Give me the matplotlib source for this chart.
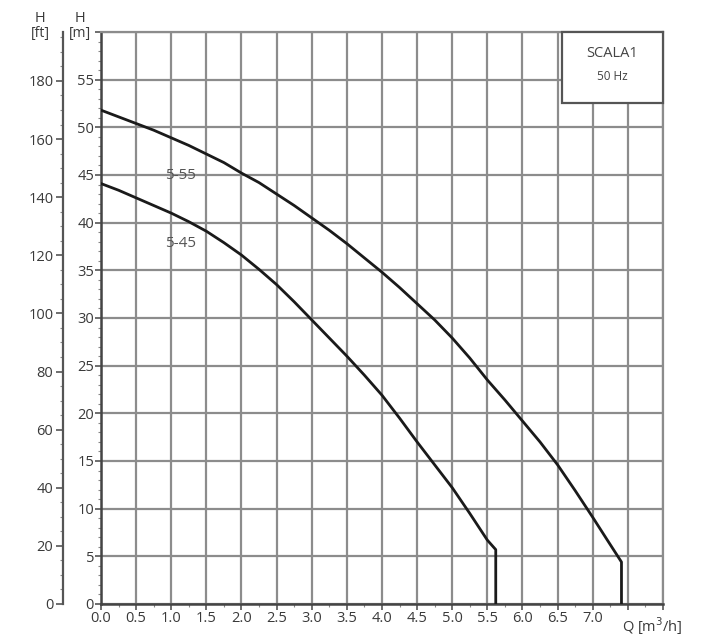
import matplotlib.pyplot as plt
from matplotlib.patches import Rectangle
from matplotlib.ticker import MultipleLocator

# Pump curves (Q in m3/h, H in m)
q_555 = [0.0, 0.25, 0.5, 0.75, 1.0, 1.25, 1.5, 1.75, 2.0, 2.25, 2.5, 2.75, 3.0, 3.25,
         3.5, 3.75, 4.0, 4.25, 4.5, 4.75, 5.0, 5.25, 5.5, 5.75, 6.0, 6.25, 6.5, 6.75,
         7.0, 7.2, 7.41, 7.41]
h_555 = [51.8, 51.1, 50.4, 49.7, 48.9, 48.1, 47.2, 46.3, 45.2, 44.2, 43.0, 41.8, 40.5, 39.2,
         37.8, 36.3, 34.8, 33.2, 31.5, 29.8, 27.9, 25.8, 23.5, 21.4, 19.2, 17.0, 14.6, 11.9,
         9.1, 6.8, 4.4, 0.0]

q_545 = [0.0, 0.25, 0.5, 0.75, 1.0, 1.25, 1.5, 1.75, 2.0, 2.25, 2.5, 2.75, 3.0, 3.25,
         3.5, 3.75, 4.0, 4.25, 4.5, 4.75, 5.0, 5.25, 5.5, 5.62, 5.62]
h_545 = [44.1, 43.4, 42.6, 41.8, 41.0, 40.1, 39.1, 37.9, 36.6, 35.1, 33.5, 31.7, 29.8, 27.9,
         26.0, 24.0, 21.9, 19.5, 17.0, 14.6, 12.2, 9.5, 6.7, 5.7, 0.0]

curve_names = ["5-55", "5-45"]
label_pos = [(1.13, 44.9), (1.13, 37.8)]

x_ticks = [0.0, 0.5, 1.0, 1.5, 2.0, 2.5, 3.0, 3.5, 4.0, 4.5, 5.0, 5.5, 6.0, 6.5, 7.0]
m_ticks = list(range(0, 56, 5))
ft_ticks = list(range(0, 181, 20))
M_TO_FT = 3.28084

TEXT = "#3a3a3a"
GRID = "#8c8c8c"

plt.rcParams["font.family"] = ["Open Sans", "DejaVu Sans"]

fig = plt.figure(figsize=(7.19, 6.40), dpi=100)
ax = fig.add_axes([0.1405, 0.0563, 0.7815, 0.8937])

ax.set_xlim(0, 8)
ax.set_ylim(0, 60)

# grid every 0.5 m3/h and 5 m
ax.xaxis.set_major_locator(MultipleLocator(0.5))
ax.yaxis.set_major_locator(MultipleLocator(5))
ax.xaxis.set_minor_locator(MultipleLocator(0.25))
ax.yaxis.set_minor_locator(MultipleLocator(1))
ax.grid(True, which="major", color=GRID, linewidth=1.6, zorder=0)
ax.set_axisbelow(True)

ax.set_xticks(x_ticks + [7.5, 8.0])
ax.set_xticklabels([f"{v:.1f}" for v in x_ticks] + ["", ""])
ax.set_yticks(m_ticks + [60])
ax.set_yticklabels([str(v) for v in m_ticks] + [""])
ax.tick_params(axis="both", which="major", length=4, width=1.2, color="#555555",
               labelsize=10.5, labelcolor=TEXT, pad=1)
ax.tick_params(axis="both", which="minor", length=2, width=0.8, color="#888888")

for side in ["top", "right"]:
    ax.spines[side].set_color(GRID)
    ax.spines[side].set_linewidth(1.6)
for side in ["left", "bottom"]:
    ax.spines[side].set_color("#444444")
    ax.spines[side].set_linewidth(1.8)

# curves
ax.plot(q_555, h_555, color="#1a1a1a", linewidth=2.0, zorder=3)
ax.plot(q_545, h_545, color="#1a1a1a", linewidth=2.0, zorder=3)
for name, (lx, ly) in zip(curve_names, label_pos):
    ax.text(lx, ly, name, ha="center", va="center", fontsize=11, color="#555555", zorder=4)

# secondary feet axis
sec = ax.secondary_yaxis(-0.0676, functions=(lambda m: m * M_TO_FT, lambda f: f / M_TO_FT))
sec.set_yticks(ft_ticks)
sec.yaxis.set_minor_locator(MultipleLocator(5))
sec.tick_params(axis="y", which="major", length=5, width=1.2, color="#555555",
                labelsize=10.5, labelcolor=TEXT, pad=2)
sec.tick_params(axis="y", which="minor", length=2, width=0.8, color="#888888")
sec.spines["left"].set_color("#555555")
sec.spines["left"].set_linewidth(1.6)

# axis titles
fig.text(40 / 719, 1 - 18 / 640, "H", ha="center", va="center", fontsize=10.5, color=TEXT)
fig.text(40 / 719, 1 - 33 / 640, "[ft]", ha="center", va="center", fontsize=10, color=TEXT)
fig.text(80 / 719, 1 - 18 / 640, "H", ha="center", va="center", fontsize=10.5, color=TEXT)
fig.text(80 / 719, 1 - 33 / 640, "[m]", ha="center", va="center", fontsize=10, color=TEXT)
fig.text(652 / 719, 1 - 626 / 640, "Q [m$^3$/h]", ha="center", va="center", fontsize=10.5, color=TEXT)

# model box in the upper right corner
box = Rectangle((6.56, 52.6), 1.44, 7.4, facecolor="white", edgecolor="#555555",
                linewidth=1.6, zorder=5, clip_on=False)
ax.add_patch(box)
ax.text(7.28, 57.7, "SCALA1", ha="center", va="center", fontsize=10.5, color="#444444", zorder=6)
ax.text(7.28, 55.3, "50 Hz", ha="center", va="center", fontsize=8.5, color="#444444", zorder=6)

fig.savefig("out.png", dpi=100)
